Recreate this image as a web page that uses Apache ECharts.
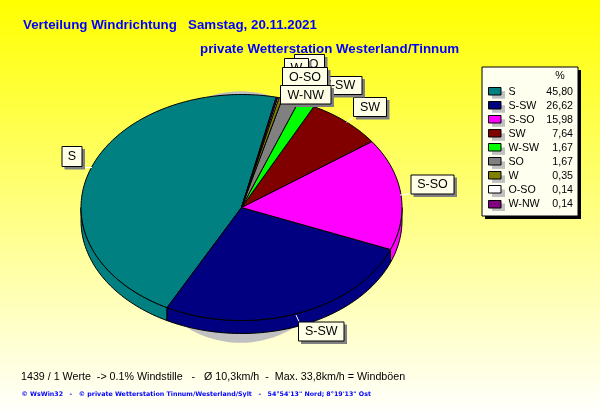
<!DOCTYPE html>
<html><head><meta charset="utf-8">
<style>html,body{margin:0;padding:0;background:#fff}#c{width:600px;height:415px}</style>
<script src="https://cdn.jsdelivr.net/npm/echarts@6/dist/echarts.min.js"></script></head>
<body><div id="c"></div>
<script>
const categories=['S','S-SW','S-SO','SW','W-SW','SO','W','O-SO','W-NW'];
const percentValues=[45.80,26.62,15.98,7.64,1.67,1.67,0.35,0.14,0.14];
const percentLabels=['45,80','26,62','15,98','7,64','1,67','1,67','0,35','0,14','0,14'];
const sliceColors=['#008080','#000080','#ff00ff','#800000','#00ff00','#808080','#808000','#ffffff','#800080'];
const titleA='Verteilung Windrichtung   Samstag, 20.11.2021';
const titleB='private Wetterstation Westerland/Tinnum';
const footA='1439 / 1 Werte  -> 0.1% Windstille   -   Ø 10,3km/h  -  Max. 33,8km/h = Windböen';
const footB='© WsWin32   -   © private Wetterstation Tinnum/Westerland/Sylt   -   54°54\'13" Nord; 8°19\'13" Ost';

// layout
const CX=241.5,CY=207.5,RX=160.5,RY=113,DEPTH=13,START=-77.5;
const boxes=[[61.5,146,20,20],[298,321.5,45.5,19],[410.5,174.5,43,19],[353,97,33,19],[312,76,49.5,18],[294,54,30,19],[284,58,24,19],[282,67,45,19],[280,85,50.5,18.5]];
const leaders=[[[85,167.5],[92,167.5]],[[296,315],[299,321.5]],[[400,195],[411,193.5]],[[346.5,122.5],[354,116.5]]];
const sum=percentValues.reduce((a,b)=>a+b,0);
const ptOn=(a,cy)=>[CX+RX*Math.cos(a*Math.PI/180),cy+RY*Math.sin(a*Math.PI/180)];
// slice angle ranges, counter-clockwise on screen
const ranges=[];{let a=START;percentValues.forEach(v=>{const b=a-v/sum*360;ranges.push([a,b]);a=b;});}
function arc(a0,a1,cy){const n=Math.max(2,Math.ceil(Math.abs(a1-a0)/1.5));const out=[];for(let i=0;i<=n;i++)out.push(ptOn(a0+(a1-a0)*i/n,cy));return out;}
const line={stroke:'#000',lineWidth:1};

function renderItem(params,api){
  const i=params.dataIndex,[a0,a1]=ranges[i];
  const kids=[];
  // visible side wall: the part of the rim on the lower half of the ellipse
  for(let k=-1;k<=1;k++){
    const s=Math.max(a1,360*k),e=Math.min(a0,360*k+180);
    if(e>s){
      kids.push({type:'polygon',shape:{points:arc(s,e,CY).concat(arc(e,s,CY+DEPTH))},style:{fill:api.visual('color'),...line}});
    }
  }
  kids.push({type:'polygon',shape:{points:[[CX,CY]].concat(arc(a0,a1,CY))},style:{fill:api.visual('color'),...line}});
  return {type:'group',children:kids};
}
const g=[];
// pie shadow
g.push({type:'ellipse',z:1,shape:{cx:240.5,cy:217,rx:112,ry:125.8},style:{fill:'#c0c0c0'},silent:true});
// legend panel
g.push({type:'rect',z:5,shape:{x:485,y:70,width:96,height:149},style:{fill:'#000'}});
g.push({type:'rect',z:6,shape:{x:482,y:67,width:96,height:149},style:{fill:'#fffff0',stroke:'#000',lineWidth:1}});
g.push({type:'text',z:9,style:{text:'%',x:560,y:76,font:'10.67px "Liberation Sans"',fill:'#000',textAlign:'center',textVerticalAlign:'middle'}});
categories.forEach((n,i)=>{
  const y=91.7+i*14.04;
  g.push({type:'rect',z:7,shape:{x:492,y:y-0.5,width:13,height:7.5},style:{fill:'#c0c0c0'}});
  g.push({type:'rect',z:8,shape:{x:488.5,y:Math.round(y-3.5)+.5-1,width:12.5,height:7.5},style:{fill:sliceColors[i],stroke:'#000',lineWidth:1}});
  g.push({type:'text',z:9,style:{text:n,x:508.5,y:y,font:'10.67px "Liberation Sans"',fill:'#000',textVerticalAlign:'middle'}});
  g.push({type:'text',z:9,style:{text:percentLabels[i],x:573,y:y,font:'10.67px "Liberation Sans"',fill:'#000',textAlign:'right',textVerticalAlign:'middle'}});
});
// titles
g.push({type:'text',z:9,style:{text:titleA,x:23,y:25.5,font:'bold 13.33px "Liberation Sans"',fill:'#0000ff',textVerticalAlign:'middle'}});
g.push({type:'text',z:9,style:{text:titleB,x:200,y:49.5,font:'bold 13.33px "Liberation Sans"',fill:'#0000ff',textVerticalAlign:'middle'}});
g.push({type:'text',z:9,style:{text:footA,x:21,y:377,font:'10.7px "Liberation Sans"',fill:'#000',textVerticalAlign:'middle'}});
g.push({type:'text',z:9,style:{text:footB,x:21.5,y:394.5,font:'bold 6.3px "DejaVu Sans"',fill:'#0000ff',textVerticalAlign:'middle'}});
// leaders
leaders.forEach(l=>g.push({type:'polyline',z:3,shape:{points:l},style:{stroke:'#fff',lineWidth:1}}));
// label boxes
boxes.forEach((b,i)=>{
  const z=20+i*3;
  g.push({type:'rect',z,shape:{x:b[0]+3,y:b[1]+3,width:b[2]+.5,height:b[3]+.5},style:{fill:'#808080'}});
  g.push({type:'rect',z:z+1,shape:{x:b[0]+.5,y:b[1]+.5,width:b[2],height:b[3]},style:{fill:'#ffffe8',stroke:'#000',lineWidth:1}});
  g.push({type:'text',z:z+2,style:{text:categories[i],x:b[0]+b[2]/2+.5,y:b[1]+b[3]/2+1,font:'12.5px "Liberation Sans"',fill:'#000',textAlign:'center',textVerticalAlign:'middle'}});
});
const chart=echarts.init(document.getElementById('c'),null,{renderer:'canvas'});
chart.setOption({
  animation:false,
  backgroundColor:{type:'linear',x:0,y:0,x2:0,y2:1,colorStops:[{offset:0,color:'#ffff00'},{offset:1,color:'#ffffff'}]},
  series:[{type:'custom',z:2,coordinateSystem:'none',renderItem,
    data:categories.map((c,i)=>({name:c,value:[i,percentValues[i]],itemStyle:{color:sliceColors[i]}}))}],
  graphic:{elements:g}
});
</script></body></html>
